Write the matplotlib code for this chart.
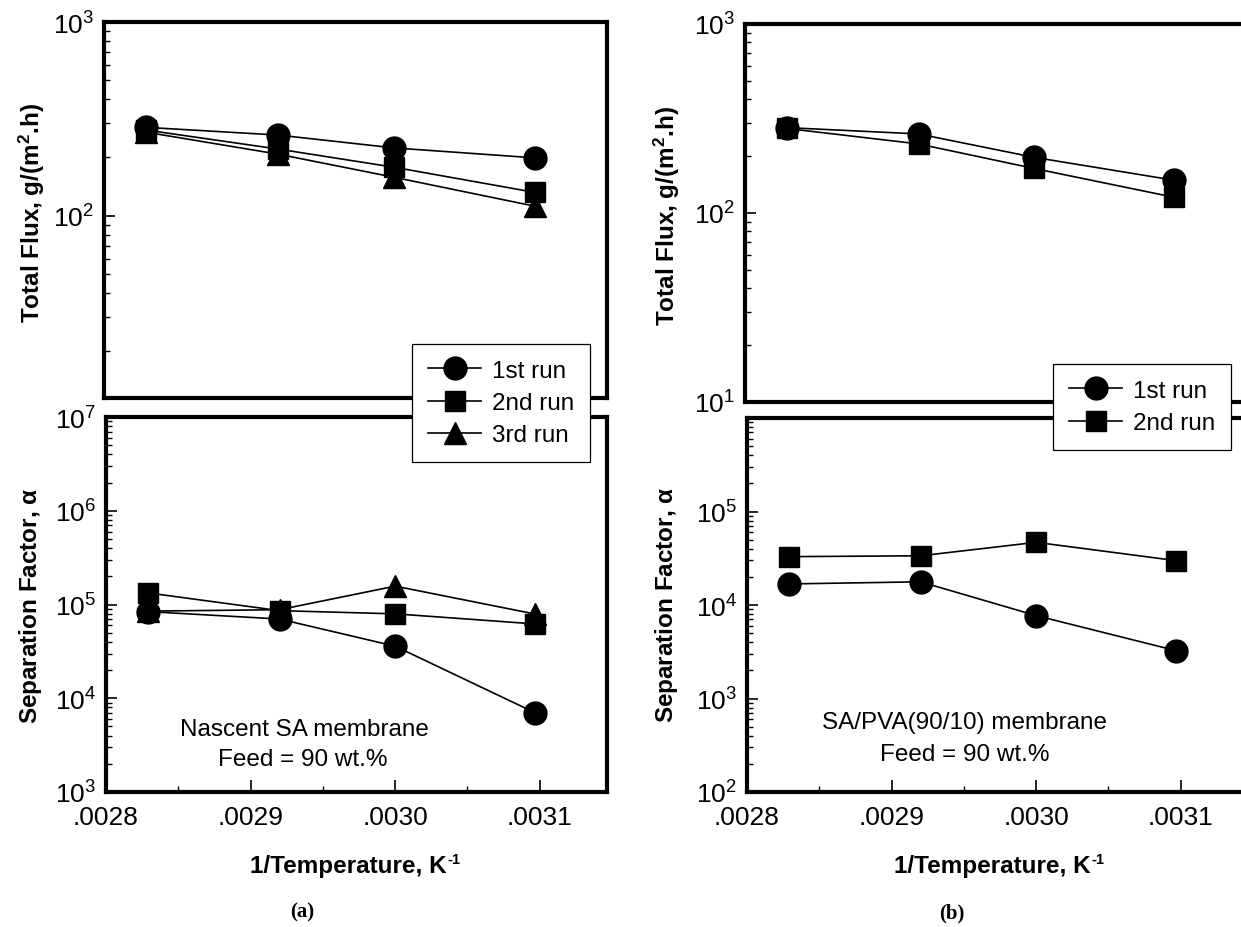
import matplotlib
matplotlib.use('Agg')
import matplotlib.pyplot as plt
from matplotlib import font_manager
from matplotlib.ticker import FixedLocator, LogLocator, FuncFormatter, NullFormatter, NullLocator

# ---------------- data ----------------
inv_T = [0.002829, 0.002920, 0.003000, 0.003097]
run_labels = ['1st run', '2nd run', '3rd run']

flux_a_run1 = [286, 261, 224, 199]
flux_a_run2 = [277, 221, 178, 132]
flux_a_run3 = [270, 208, 158, 112]
sep_a_run1 = [84000, 70000, 35900, 6970]
sep_a_run2 = [133000, 86000, 79500, 62000]
sep_a_run3 = [85000, 88000, 157000, 79000]

flux_b_run1 = [283, 262, 197, 149]
flux_b_run2 = [280, 232, 172, 121]
sep_b_run1 = [16800, 17700, 7700, 3240]
sep_b_run2 = [32900, 33600, 46800, 29800]

x_major = [0.0028, 0.0029, 0.0030, 0.0031]
x_minor = [0.00285, 0.00295, 0.00305]

# ---------------- style ----------------
names = {f.name for f in font_manager.fontManager.ttflist}
sans = 'Liberation Sans' if 'Liberation Sans' in names else 'DejaVu Sans'
serif = 'Liberation Serif' if 'Liberation Serif' in names else 'DejaVu Serif'
plt.rcParams['font.family'] = [sans, 'DejaVu Sans']
plt.rcParams['mathtext.fontset'] = 'custom'
plt.rcParams['mathtext.rm'] = sans
plt.rcParams['mathtext.it'] = sans + ':italic'
plt.rcParams['mathtext.bf'] = sans + ':bold'
plt.rcParams['mathtext.default'] = 'regular'

W, H = 1241, 928
fig = plt.figure(figsize=(W / 100, H / 100), dpi=100)
FS = 17.5
TFS = 19


def px_axes(x0, y0, x1, y1):
    return fig.add_axes([x0 / W, 1 - y1 / H, (x1 - x0) / W, (y1 - y0) / H])


def xfmt(v, pos):
    return ('%.4f' % v).lstrip('0')


def yfmt_factory(hide=()):
    def f(v, pos):
        import math
        e = int(round(math.log10(v)))
        if e in hide:
            return ''
        return r'$10^{%d}$' % e
    return f


def style_axes(ax, ylim, xlabels=True, hide=()):
    ax.set_yscale('log')
    ax.set_xlim(0.0028, 0.0031465)
    ax.set_ylim(*ylim)
    for s in ax.spines.values():
        s.set_linewidth(3.0)
    ax.yaxis.set_major_locator(LogLocator(base=10))
    ax.yaxis.set_minor_locator(LogLocator(base=10, subs=range(2, 10)))
    ax.yaxis.set_major_formatter(FuncFormatter(yfmt_factory(hide)))
    ax.yaxis.set_minor_formatter(NullFormatter())
    ax.tick_params(axis='y', which='major', direction='in', length=8, width=1.2,
                   labelsize=TFS, pad=7, left=True, right=False)
    ax.tick_params(axis='y', which='minor', direction='in', length=4.5, width=1.0,
                   left=True, right=False)
    if xlabels:
        ax.xaxis.set_major_locator(FixedLocator(x_major))
        ax.xaxis.set_minor_locator(FixedLocator(x_minor))
        ax.xaxis.set_major_formatter(FuncFormatter(xfmt))
        ax.tick_params(axis='x', which='major', direction='in', length=8.5, width=1.2,
                       labelsize=TFS, pad=9.5, top=False)
        ax.tick_params(axis='x', which='minor', direction='in', length=4.3, width=1.0,
                       top=False)
    else:
        ax.xaxis.set_major_locator(NullLocator())
        ax.xaxis.set_minor_locator(NullLocator())


line_kw = dict(color='black', lw=1.2, markerfacecolor='black', markeredgecolor='black')
MS_O, MS_S, MS_T = 16.5, 14, 15.5

# ---------------- panel (a) ----------------
ax_a1 = px_axes(104, 23, 607, 399)
ax_a2 = px_axes(106, 418, 607, 793)
style_axes(ax_a1, (10 ** 1.06, 1000), xlabels=False)
style_axes(ax_a2, (1e3, 1e7))

h3, = ax_a1.plot(inv_T, flux_a_run3, marker='^', ms=MS_T, **line_kw)
h2, = ax_a1.plot(inv_T, flux_a_run2, marker='s', ms=MS_S, **line_kw)
h1, = ax_a1.plot(inv_T, flux_a_run1, marker='o', ms=MS_O, **line_kw)
ax_a2.plot(inv_T, sep_a_run3, marker='^', ms=MS_T, **line_kw)
ax_a2.plot(inv_T, sep_a_run2, marker='s', ms=MS_S, **line_kw)
ax_a2.plot(inv_T, sep_a_run1, marker='o', ms=MS_O, **line_kw)

# ---------------- panel (b) ----------------
ax_b1 = px_axes(745, 25, 1246, 403)
ax_b2 = px_axes(747, 419, 1248, 793)
style_axes(ax_b1, (10, 1000), xlabels=False)
style_axes(ax_b2, (1e2, 1e6), hide=(6,))

g2, = ax_b1.plot(inv_T, flux_b_run2, marker='s', ms=MS_S, **line_kw)
g1, = ax_b1.plot(inv_T, flux_b_run1, marker='o', ms=MS_O, **line_kw)
ax_b2.plot(inv_T, sep_b_run2, marker='s', ms=MS_S, **line_kw)
ax_b2.plot(inv_T, sep_b_run1, marker='o', ms=MS_O, **line_kw)

# ---------------- legends ----------------
leg_kw = dict(loc='upper left', bbox_transform=fig.transFigure, frameon=True,
              fancybox=False, edgecolor='black', framealpha=1, borderaxespad=0,
              handlelength=2.2, handletextpad=0.45, labelspacing=0.42, borderpad=0.65,
              fontsize=FS)
la = fig.legend([h1, h2, h3], run_labels, bbox_to_anchor=(412 / W, 1 - 345 / H), **leg_kw)
la.get_frame().set_linewidth(0.9)
lb = fig.legend([g1, g2], run_labels[:2], bbox_to_anchor=(1053 / W, 1 - 365 / H), **leg_kw)
lb.get_frame().set_linewidth(0.9)


def ftext(x, y, s, **kw):
    return fig.text(x / W, 1 - y / H, s, ha='center', va='center', **kw)


# axis labels
ftext(32, 213, r'Total Flux, g/(m$^{\mathbf{2}}$.h)', rotation=90, fontsize=FS, fontweight='bold')
ftext(31, 606, r'Separation Factor, $\alpha$', rotation=90, fontsize=FS, fontweight='bold')
ftext(667, 216, r'Total Flux, g/(m$^{\mathbf{2}}$.h)', rotation=90, fontsize=FS, fontweight='bold')
ftext(667, 605, r'Separation Factor, $\alpha$', rotation=90, fontsize=FS, fontweight='bold')

# x labels with a hyphen-style superscript "-1"
renderer = fig.canvas.get_renderer()
for xc in (353, 997):
    t = fig.text(0, 0, '1/Temperature, K', fontsize=FS, fontweight='bold')
    bb = t.get_window_extent(renderer)
    wtot = bb.width + 9
    x0 = xc - wtot / 2
    t.set_position((x0 / W, 1 - 867 / H))
    t.set_va('center')
    bb = t.get_window_extent(renderer)
    fig.text((x0 + bb.width + 0.5) / W, 1 - 860 / H, '-1', fontsize=FS * 0.6,
             fontweight='bold', va='center', ha='left')

# annotations
ftext(304, 730, 'Nascent SA membrane', fontsize=FS)
ftext(303, 760, 'Feed = 90 wt.%', fontsize=FS)
ftext(965, 723, 'SA/PVA(90/10) membrane', fontsize=FS)
ftext(965, 755, 'Feed = 90 wt.%', fontsize=FS)

# panel tags
ftext(302, 912, '(a)', fontsize=15, fontweight='bold', family=serif)
ftext(952, 913, '(b)', fontsize=15, fontweight='bold', family=serif)

fig.savefig('out.png', dpi=100)
